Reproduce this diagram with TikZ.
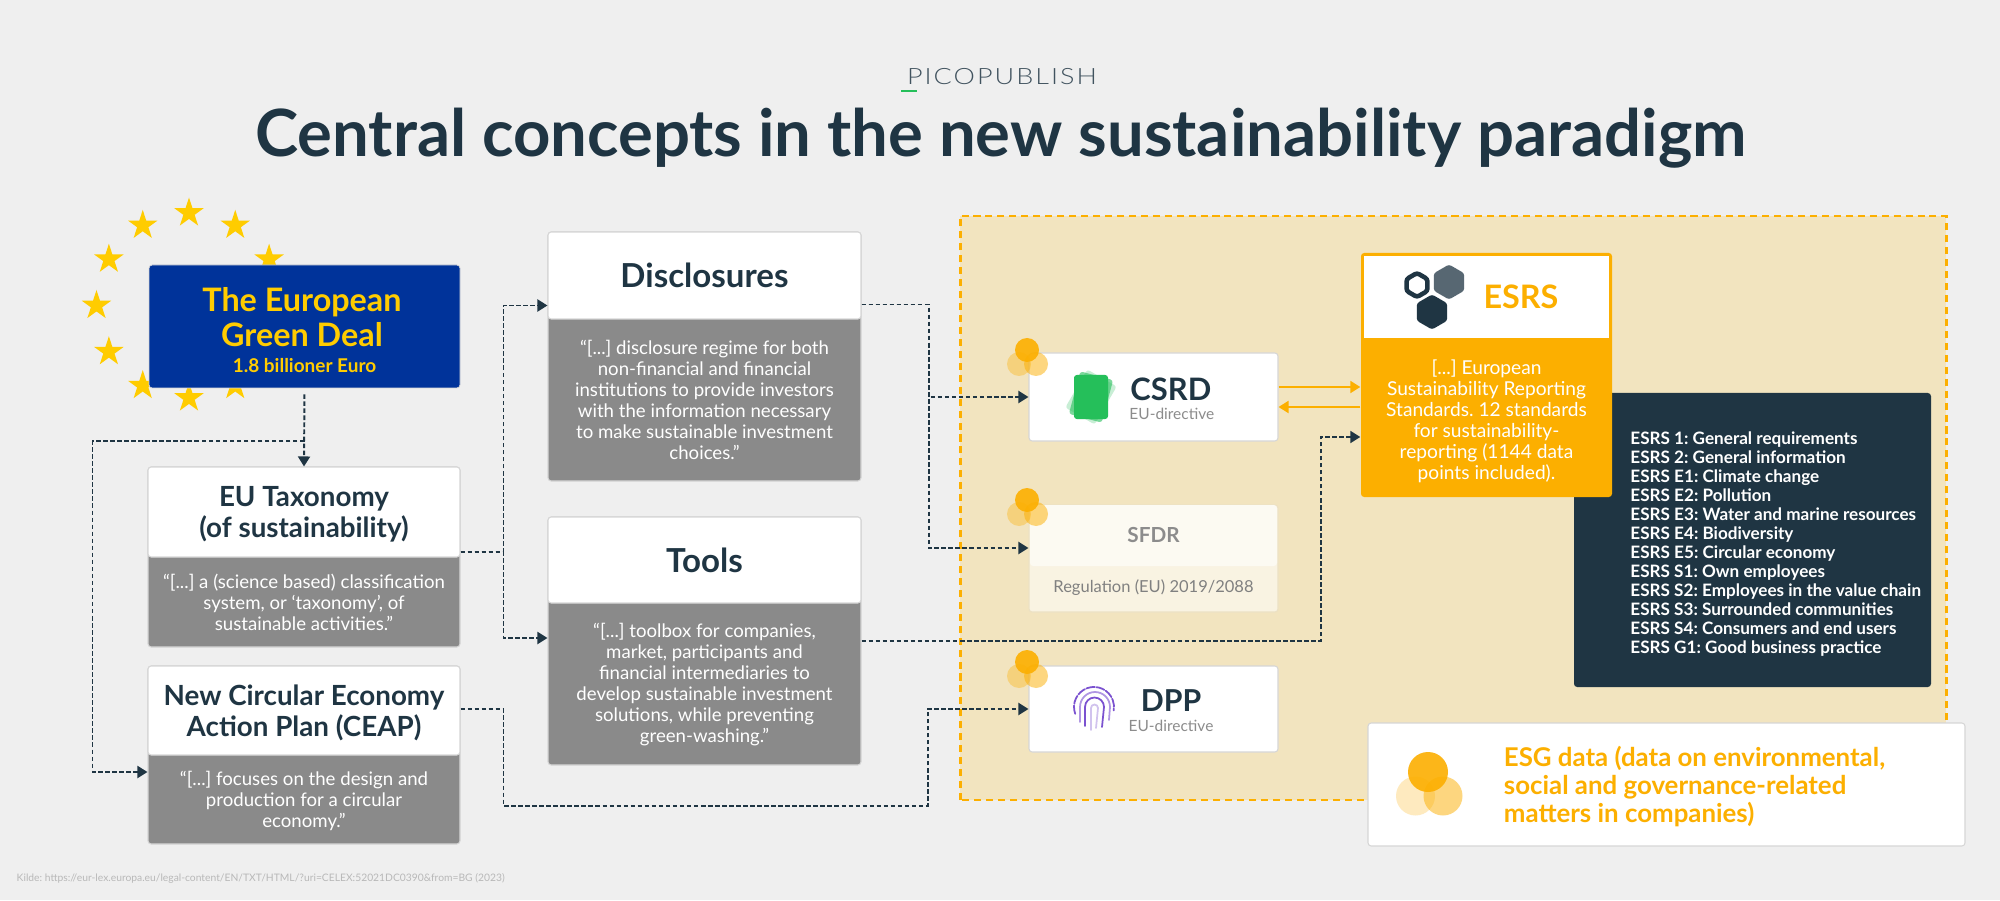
\documentclass[tikz,border=0pt]{standalone}
\usepackage{fontspec}
\setmainfont{Lato}
\newfontfamily\logofont[LetterSpace=9,FakeStretch=1.2]{Lato Light}
\usetikzlibrary{arrows.meta,shapes.geometric}
\definecolor{pagegrey}{HTML}{EFEFEF}
\definecolor{darkblue}{HTML}{1F3543}
\definecolor{bodygrey}{HTML}{8A8A8A}
\definecolor{eublue}{HTML}{00339A}
\definecolor{euyellow}{HTML}{FFCC00}
\definecolor{esgorange}{HTML}{FCAF00}
\definecolor{sandy}{HTML}{F2E4BF}
\definecolor{edgegrey}{HTML}{D6D6D6}
\definecolor{cardgreen}{HTML}{25BF5A}
\definecolor{printviolet}{HTML}{7B52D0}
\tikzset{
  whitebox/.style={fill=white,draw=edgegrey,line width=.3pt,rounded corners=.9pt,inner sep=0pt},
  greybox/.style={fill=bodygrey,draw=edgegrey,line width=.3pt,rounded corners=.9pt,inner sep=0pt},
  headtext/.style={font=\bfseries\fontsize{7.9}{8.8}\selectfont,text=darkblue,align=center,yshift=-.02cm},
  bighead/.style={font=\bfseries\fontsize{9.4}{9.4}\selectfont,text=darkblue},
  bodytext/.style={font=\fontsize{5.3}{5.97}\selectfont,text=white,align=center},
  conn/.style={draw=darkblue,line width=.55pt,dash pattern=on 1.3pt off .7pt,-{Triangle[length=.1cm,width=.12cm]}},
  orangeconn/.style={draw=esgorange,line width=.55pt,-{Triangle[length=.1cm,width=.12cm]}},
  eustar/.style={star,star points=5,star point ratio=2.618,fill=euyellow,minimum size=.31cm,inner sep=0pt},
  blob/.style={circle,fill=esgorange,minimum size=.24cm,inner sep=0pt},
  hex/.style={regular polygon,regular polygon sides=6,shape border rotate=30,inner sep=0pt,rounded corners=.7pt},
  card/.style={fill=cardgreen,minimum width=.34cm,minimum height=.44cm,inner sep=0pt,rounded corners=.8pt},
  printline/.style={draw=printviolet,line width=.5pt,line cap=round},
}
\begin{document}
\frenchspacing
\begin{tikzpicture}
  \fill[pagegrey] (0,0) rectangle (20,9);
  \useasboundingbox (0,0) rectangle (20,9);

  % title
  \node[font=\logofont\fontsize{6.4}{6.4}\selectfont,text=darkblue!85] (logo) at (10.02,8.23) {PICOPUBLISH};
  \draw[cardgreen,line width=.55pt] (9.01,8.09) -- (9.17,8.09);
  \node[font=\bfseries\fontsize{18.55}{18.6}\selectfont,text=darkblue] (title) at (10.01,7.62) {Central concepts in the new sustainability paradigm};

  % stars round the green deal
  \foreach \i in {1,...,12}
    \node[eustar] (star\i) at ({1.89+.925*cos(\i*30)},{5.945+.925*sin(\i*30)}) {};

  \node[fill=eublue,draw=edgegrey,line width=.2pt,rounded corners=.9pt,minimum width=3.11cm,minimum height=1.23cm] (deal) at (3.045,5.735) {};
  \node[font=\bfseries\fontsize{9.2}{10}\selectfont,text=euyellow,align=center] (dealtext) at (3.02,5.83) {The European\\Green Deal};
  \node[font=\bfseries\fontsize{5.4}{6}\selectfont,text=euyellow] (dealsum) at (3.045,5.34) {1.8 billioner Euro};

  % left column
  \node[greybox,minimum width=3.12cm,minimum height=1.8cm] (tax) at (3.04,3.43) {};
  \node[whitebox,minimum width=3.12cm,minimum height=.9cm,anchor=north] (taxhead) at (tax.north) {};
  \node[headtext] at (taxhead) (taxtitle) {EU Taxonomy\\(of sustainability)};
  \node[bodytext] (taxbody) at (3.04,2.98) {“[...] a (science based) classification\\system, or ‘taxonomy’, of\\sustainable activities.”};

  \node[greybox,minimum width=3.12cm,minimum height=1.78cm] (ceap) at (3.04,1.45) {};
  \node[whitebox,minimum width=3.12cm,minimum height=.89cm,anchor=north] (ceaphead) at (ceap.north) {};
  \node[headtext] at (ceaphead) (ceaptitle) {New Circular Economy\\Action Plan (CEAP)};
  \node[bodytext] (ceapbody) at (3.04,.99) {“[...] focuses on the design and\\production for a circular\\economy.”};

  % middle column
  \node[greybox,minimum width=3.13cm,minimum height=2.49cm] (disc) at (7.045,5.435) {};
  \node[whitebox,minimum width=3.13cm,minimum height=.87cm,anchor=north] (dischead) at (disc.north) {};
  \node[bighead] at (dischead) (disctitle) {Disclosures};
  \node[bodytext] (discbody) at (7.045,5.0) {“[...] disclosure regime for both\\non-financial and financial\\institutions to provide investors\\with the information necessary\\to make sustainable investment\\choices.”};

  \node[greybox,minimum width=3.13cm,minimum height=2.48cm] (tools) at (7.045,2.59) {};
  \node[whitebox,minimum width=3.13cm,minimum height=.86cm,anchor=north] (toolshead) at (tools.north) {};
  \node[bighead] at (toolshead) (toolstitle) {Tools};
  \node[bodytext] (toolsbody) at (7.045,2.15) {“[...] toolbox for companies,\\market, participants and\\financial intermediaries to\\develop sustainable investment\\solutions, while preventing\\green-washing.”};

  % sand area
  \draw[fill=sandy,draw=esgorange,line width=.85pt,dash pattern=on 2pt off 1.4pt] (9.6,1) rectangle (19.46,6.84);

  % csrd
  \node[whitebox,minimum width=2.49cm,minimum height=.88cm] (csrd) at (11.535,5.03) {};
  \foreach \a/\b in {-30/.25,-15/.6,0/1}
    \node[card,rotate=\a,opacity=\b] (card\a) at (10.91,5.03) {};
  \node[font=\bfseries\fontsize{8.8}{9}\selectfont,text=darkblue,anchor=west] (csrdtitle) at (11.18,5.11) {CSRD};
  \node[font=\fontsize{4.4}{5}\selectfont,text=black!45,anchor=west] (csrdsub) at (11.17,4.86) {EU-directive};

  % sfdr
  \node[whitebox,fill=sandy!45!white,draw=sandy!80!edgegrey,minimum width=2.49cm,minimum height=1.07cm] (sfdr) at (11.535,3.415) {};
  \node[whitebox,fill=sandy!20!white,draw=none,minimum width=2.47cm,minimum height=.61cm,anchor=north] (sfdrhead) at (sfdr.north) {};
  \node[font=\bfseries\fontsize{5.9}{6}\selectfont,text=black!45] (sfdrtitle) at (sfdrhead) {SFDR};
  \node[font=\fontsize{4.7}{5}\selectfont,text=black!50] (sfdrsub) at (11.535,3.12) {Regulation (EU) 2019/2088};

  % dpp
  \node[whitebox,minimum width=2.49cm,minimum height=.86cm] (dpp) at (11.535,1.91) {};
  \draw[printline,dash pattern=on 2.4pt off .5pt] (10.752,1.862) arc (200:-10:.2);
  \draw[printline,printviolet!60] (10.8,1.78) -- (10.8,1.93) arc (180:0:.15) -- (11.09,1.8);
  \draw[printline] (10.85,1.74) -- (10.85,1.93) arc (180:0:.095) -- (11.02,1.73);
  \draw[printline,printviolet!35] (10.91,1.7) -- (10.91,1.92) arc (180:0:.035) -- (10.96,1.72);
  \node[font=\bfseries\fontsize{8.6}{9}\selectfont,text=darkblue] (dpptitle) at (11.71,1.99) {DPP};
  \node[font=\fontsize{4.4}{5}\selectfont,text=black!45] (dppsub) at (11.71,1.74) {EU-directive};

  % small blobs
  \foreach \n/\y in {c/5.5,s/4,d/2.38} {
    \node[blob,opacity=.35] (\n left) at (10.19,{\y-.14}) {};
    \node[blob,opacity=.5] (\n right) at (10.36,{\y-.14}) {};
    \node[blob,opacity=.9] (\n top) at (10.27,\y) {};
  }

  % esrs list
  \node[fill=darkblue,rounded corners=.9pt,minimum width=3.57cm,minimum height=2.94cm] (list) at (17.525,3.6) {};
  \node[font=\bfseries\fontsize{4.87}{5.4}\selectfont,text=white,align=left,anchor=west] (listtext) at (16.18,3.56) {ESRS 1: General requirements\\ESRS 2: General information\\ESRS E1: Climate change\\ESRS E2: Pollution\\ESRS E3: Water and marine resources\\ESRS E4: Biodiversity\\ESRS E5: Circular economy\\ESRS S1: Own employees\\ESRS S2: Employees in the value chain\\ESRS S3: Surrounded communities\\ESRS S4: Consumers and end users\\ESRS G1: Good business practice};

  % esrs
  \node[fill=esgorange,rounded corners=.9pt,minimum width=2.51cm,minimum height=2.44cm] (esrs) at (14.865,5.25) {};
  \node[fill=white,minimum width=2.45cm,minimum height=.82cm,anchor=north,yshift=-.03cm] (esrshead) at (esrs.north) {};
  \node[hex,draw=darkblue,line width=1.3pt,minimum size=.24cm] (hexa) at (14.17,6.15) {};
  \node[hex,fill=darkblue!75,minimum size=.35cm] (hexb) at (14.49,6.18) {};
  \node[hex,fill=darkblue,minimum size=.35cm] (hexc) at (14.32,5.88) {};
  \node[font=\bfseries\fontsize{9.2}{9}\selectfont,text=esgorange] (esrstitle) at (15.21,6.03) {ESRS};
  \node[bodytext,font=\fontsize{5.45}{5.97}\selectfont] (esrsbody) at (14.865,4.79) {[...] European\\Sustainability Reporting\\Standards. 12 standards\\for sustainability-\\reporting (1144 data\\points included).};

  % esg data
  \node[whitebox,minimum width=5.97cm,minimum height=1.23cm] (esg) at (16.665,1.155) {};
  \node[blob,minimum size=.39cm,opacity=.25] (bigleft) at (14.155,1.04) {};
  \node[blob,minimum size=.39cm,opacity=.5] (bigright) at (14.43,1.04) {};
  \node[blob,minimum size=.4cm,opacity=.9] (bigtop) at (14.28,1.28) {};
  \node[font=\bfseries\fontsize{7.35}{7.97}\selectfont,text=esgorange,align=left,anchor=west] (esgtext) at (14.915,1.13) {ESG data (data on environmental,\\social and governance-related\\matters in companies)};

  % source
  \node[font=\fontsize{2.93}{3}\selectfont,text=black!28,anchor=west,inner sep=0pt] (source) at (.16,.22) {Kilde: https://eur-lex.europa.eu/legal-content/EN/TXT/HTML/?uri=CELEX:52021DC0390\&from=BG (2023)};

  % connectors
  \draw[conn,shorten <=.06cm] (deal.south) -- (tax.north);
  \draw[conn] ([yshift=-.53cm]deal.south) -- ++(-2.12,0) |- ([yshift=-.17cm]ceap.west);
  \draw[conn] ([yshift=.05cm]tax.east) -- ++(.43,0) |- ([yshift=.51cm]disc.west);
  \draw[conn] ([yshift=.05cm]tax.east) -- ++(.43,0) |- ([yshift=.03cm]tools.west);
  \draw[conn] ([yshift=.46cm]ceap.east) -- ++(.43,0) -- ++(0,-.97) -- ++(4.24,0) |- (dpp.west);
  \draw[conn] ([yshift=.52cm]disc.east) -- ++(.67,0) |- (csrd.west);
  \draw[conn] ([yshift=.52cm]disc.east) -- ++(.67,0) |- ([yshift=.105cm]sfdr.west);
  \draw[conn] (tools.east) -- ++(4.59,0) |- ([yshift=-.62cm]esrs.west);
  \draw[orangeconn] ([yshift=.1cm]csrd.east) -- ([yshift=.1cm]csrd.east -| esrs.west);
  \draw[orangeconn] ([yshift=-.1cm]csrd.east -| esrs.west) -- ([yshift=-.1cm]csrd.east);
\end{tikzpicture}
\end{document}
